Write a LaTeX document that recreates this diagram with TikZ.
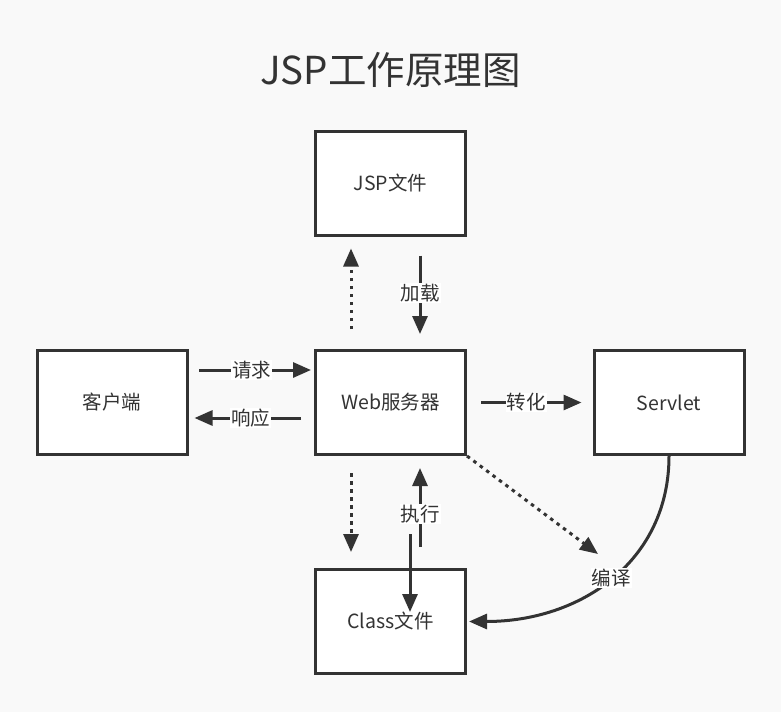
\documentclass[tikz,border=0pt]{standalone}
\usepackage{fontspec}
\setmainfont{Noto Sans CJK SC}
\usetikzlibrary{arrows.meta}
\definecolor{dark}{HTML}{333333}
\definecolor{bg}{HTML}{F9F9F9}
\begin{document}
\begin{tikzpicture}[x=1pt,y=-1pt,
  box/.style={draw=dark, line width=3pt, fill=white, minimum width=150pt, minimum height=104pt,
    inner sep=0pt, text=dark, font=\fontsize{19.5}{22}\selectfont},
  arr/.style={draw=dark, line width=3pt, -{Triangle[length=18pt,width=15pt]}},
  dotarr/.style={arr, dash pattern=on 3.5pt off 4.5pt},
  lab/.style={fill=white, text=dark, inner sep=1pt, font=\fontsize{19.5}{22}\selectfont}]
\fill[bg] (0,0) rectangle (781,712);
\useasboundingbox (0,0) rectangle (781,712);
\node[text=dark, font=\fontsize{38.5}{42}\selectfont] (title) at (390.5,70) {JSP工作原理图};
\node[box] (jsp) at (390.5,183) {JSP文件};
\node[box] (client) at (112,402.5) {客户端};
\node[box] (web) at (390.5,402.5) {Web服务器};
\node[box] (servlet) at (669,402.5) {Servlet};
\node[box] (class) at (390.5,621.5) {Class文件};
% request / response
\draw[arr] ([xshift=10.5pt,yshift=32.5pt]client.east) -- node[lab,pos=0.47] (lreq) {请求} ([xshift=-3pt,yshift=32.5pt]web.west);
\draw[arr] ([xshift=-13pt,yshift=-15.5pt]web.west) -- node[lab,pos=0.47] (lresp) {响应} ([xshift=6pt,yshift=-15.5pt]client.east);
% convert
\draw[arr] ([xshift=14pt]web.east) -- node[lab,pos=0.45] (lconv) {转化} ([xshift=-11pt]servlet.west);
% load
\draw[arr] ([xshift=29.5pt,yshift=-19pt]jsp.south) -- node[lab,pos=0.48] (lload) {加载} ([xshift=29.5pt,yshift=15pt]web.north);
\draw[dotarr] ([xshift=-39.5pt,yshift=20pt]web.north) -- ([xshift=-39.5pt,yshift=-12pt]jsp.south);
% class
\draw[dotarr] ([xshift=-39.5pt,yshift=-17pt]web.south) -- ([xshift=-39.5pt,yshift=16pt]class.north);
\draw[arr] ([xshift=29.5pt,yshift=21pt]class.north) -- node[lab,pos=0.42] (lexec) {执行} ([xshift=29.5pt,yshift=-12pt]web.south);
\draw[arr] ([xshift=19.5pt,yshift=-78pt]web.south) -- ([xshift=19.5pt,yshift=-44pt]class.north);
% compile
\draw[dotarr] (web.south east) -- ([xshift=131pt,yshift=-98pt]web.south east);
\draw[arr] (servlet.south) .. controls +(0,105) and +(112,0) .. node[lab,pos=0.5] (lcomp) {编译} ([xshift=2pt]class.east);
\end{tikzpicture}
\end{document}
